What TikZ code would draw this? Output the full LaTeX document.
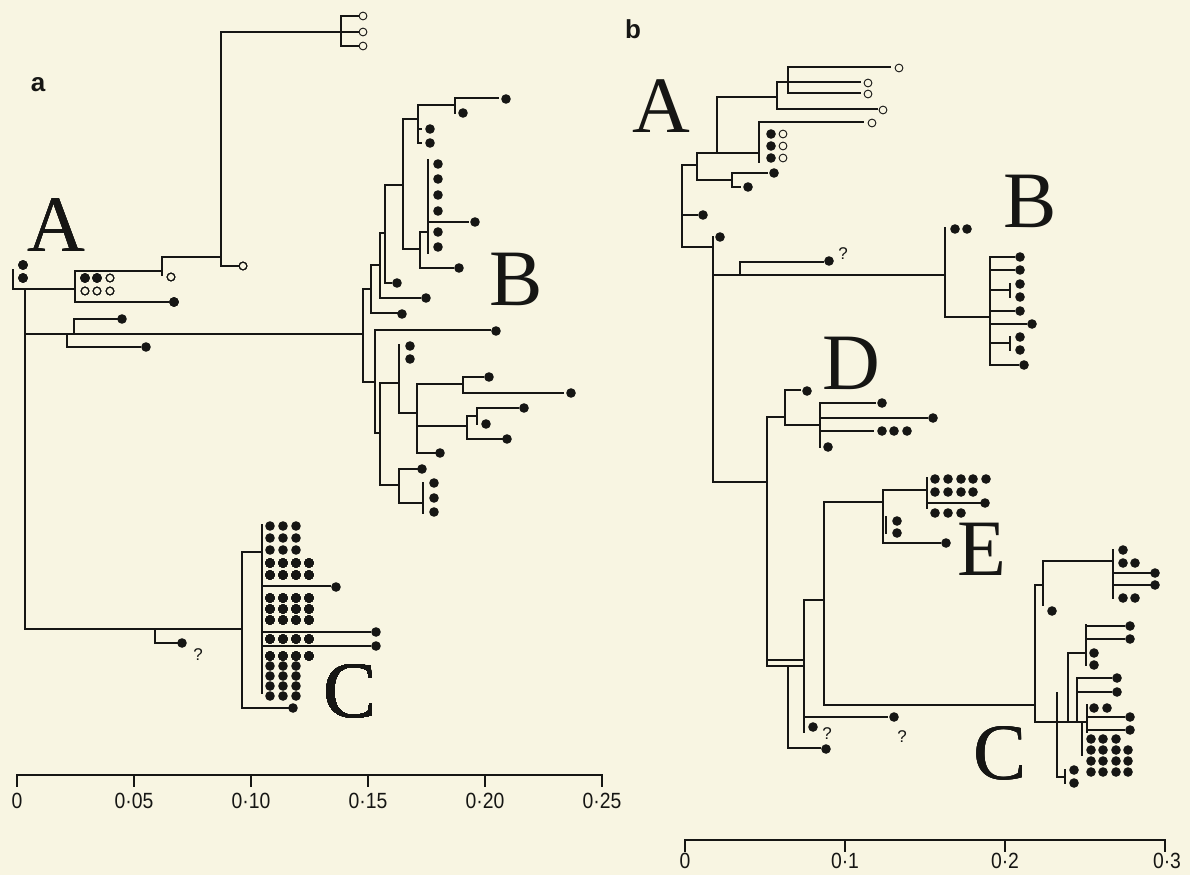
\documentclass[tikz,border=0pt]{standalone}
\usepackage{fontspec}
\setmainfont{Liberation Serif}
\newfontfamily\labelsans{Liberation Sans}
\newfontfamily\ticksans[FakeStretch=0.88]{Liberation Sans}
\definecolor{paper}{RGB}{248,245,226}
\definecolor{ink}{RGB}{22,22,20}
\newcommand\fdt[2]{\fill[ink] (#1,#2) circle[radius=4.8pt];}
\newcommand\hdt[2]{\draw[ink,line width=0.9pt] (#1,#2) circle[radius=3.9pt];}
\newcommand\fdrow[2]{\foreach \xx in {#2}{\fdt{\xx}{#1}}}
\begin{document}
\begin{tikzpicture}[x=1pt,y=-1pt,
  br/.style={draw=ink,line width=1.6pt,line cap=rect},
  clade/.style={font=\fontsize{80}{80}\selectfont,inner sep=0pt,anchor=base,text=ink},
  panel/.style={font=\labelsans\bfseries\fontsize{26}{26}\selectfont,inner sep=0pt,text=ink},
  ticklab/.style={font=\ticksans\fontsize{22}{22}\selectfont,inner sep=0pt,text=ink},
  qmark/.style={font=\labelsans\fontsize{17}{17}\selectfont,inner sep=0pt,text=ink}]
\useasboundingbox (0,0) rectangle (1190,875);
\fill[paper] (0,0) rectangle (1190,875);

% ---------------- panel a ----------------
\node[panel] (pa) at (38,85) {a};
% basal part and clade A
\draw[br] (13,270) -- (13,289) -- (75,289);
\draw[br] (25,289) -- (25,629) -- (242,629);
\draw[br] (75,271) -- (75,302) -- (168,302);
\draw[br] (75,271) -- (162,271);
\draw[br] (162,257) -- (162,275);
\draw[br] (162,257) -- (221,257);
\draw[br] (238,266) -- (221,266) -- (221,32) -- (341,32);
\draw[br] (341,16) -- (341,46);
\foreach \yy in {16,32,46} \draw[br] (341,\yy) -- (358,\yy);
\foreach \yy in {16,32,46} \hdt{363}{\yy}
\hdt{243}{266} \hdt{171}{277}
\fdt{23}{265} \fdt{23}{278} \fdt{174}{302}
\fdt{85}{278} \fdt{97}{278} \hdt{110}{278}
\hdt{85}{291} \hdt{97}{291} \hdt{110}{291}
\node[clade] (la) at (56,251) {A};
% branch to clade B
\draw[br] (25,334) -- (363,334);
\draw[br] (67,334) -- (67,347) -- (140,347); \fdt{146}{347}
\draw[br] (74,334) -- (74,319) -- (117,319); \fdt{122}{319}
% clade B, upper part
\draw[br] (363,289) -- (363,382);
\draw[br] (363,289) -- (371,289);
\draw[br] (371,265) -- (371,313) -- (397,313); \fdt{402}{314}
\draw[br] (371,265) -- (380,265);
\draw[br] (380,233) -- (380,298) -- (420,298); \fdt{426}{298}
\draw[br] (380,233) -- (385,233);
\draw[br] (385,185) -- (385,283) -- (391,283); \fdt{397}{283}
\draw[br] (385,185) -- (403,185);
\draw[br] (403,119) -- (403,249) -- (420,249);
\draw[br] (403,119) -- (418,119);
\draw[br] (418,105) -- (418,143);
\draw[br] (418,129) -- (421,129); \draw[br] (418,143) -- (421,143);
\fdt{430}{129} \fdt{430}{143}
\draw[br] (418,105) -- (455,105);
\draw[br] (455,98) -- (455,113);
\draw[br] (455,98) -- (498,98); \fdt{506}{99} \fdt{463}{113}
\draw[br] (420,232) -- (420,268) -- (453,268); \fdt{459}{268}
\draw[br] (420,232) -- (428,232);
\draw[br] (428,160) -- (428,253);
\draw[br] (428,222) -- (468,222); \fdt{475}{222}
\foreach \yy in {164,179,195,211,232,247} \fdt{438}{\yy}
% clade B, lower part
\draw[br] (363,382) -- (375,382);
\draw[br] (375,330) -- (375,433) -- (380,433);
\draw[br] (375,330) -- (490,330); \fdt{496}{331}
\draw[br] (380,383) -- (380,485) -- (399,485);
\draw[br] (380,383) -- (399,383);
\draw[br] (399,345) -- (399,413) -- (417,413);
\fdt{410}{346} \fdt{410}{359}
\draw[br] (417,384) -- (417,453) -- (435,453); \fdt{440}{453}
\draw[br] (417,384) -- (463,384);
\draw[br] (463,377) -- (463,393);
\draw[br] (463,377) -- (483,377); \fdt{489}{377}
\draw[br] (463,393) -- (563,393); \fdt{571}{393}
\draw[br] (417,426) -- (467,426);
\draw[br] (467,416) -- (467,439) -- (502,439); \fdt{507}{439}
\draw[br] (467,416) -- (477,416);
\draw[br] (477,408) -- (477,424);
\draw[br] (477,408) -- (518,408); \fdt{524}{408} \fdt{486}{424}
\draw[br] (399,469) -- (399,503) -- (423,503);
\draw[br] (399,469) -- (417,469); \fdt{422}{469}
\draw[br] (423,483) -- (423,513);
\fdt{434}{483} \fdt{434}{498} \fdt{434}{512}
\node[clade] (lb) at (516,305) {B};
% clade C
\draw[br] (155,629) -- (155,643) -- (177,643); \fdt{182}{643}
\node[qmark] (qa) at (198,655) {?};
\draw[br] (262,552) -- (242,552) -- (242,708) -- (288,708); \fdt{293}{708}
\draw[br] (262,525) -- (262,693);
\draw[br] (262,586) -- (330,586); \fdt{336}{587}
\draw[br] (262,632) -- (370,632); \fdt{376}{632}
\draw[br] (262,646) -- (370,646); \fdt{376}{646}
\foreach \yy in {526,538,550,666,676,686,696} \fdrow{\yy}{270,283,296}
\foreach \yy in {563,575,598,609,620,639,656} \fdrow{\yy}{270,283,296,309}
\node[clade] (lc) at (350,717) {C};
% scale bar a
\draw[br] (17,786) -- (17,775) -- (602,775) -- (602,786);
\foreach \xx in {134,251,368,485} \draw[br] (\xx,775) -- (\xx,786);
\node[ticklab] (ta0) at (17,801) {0};
\node[ticklab] (ta1) at (134,801) {0·05};
\node[ticklab] (ta2) at (251,801) {0·10};
\node[ticklab] (ta3) at (368,801) {0·15};
\node[ticklab] (ta4) at (485,801) {0·20};
\node[ticklab] (ta5) at (602,801) {0·25};

% ---------------- panel b ----------------
\node[panel] (pb) at (633,29) {b};
% clade A
\draw[br] (682,165) -- (682,247) -- (713,247);
\draw[br] (682,165) -- (697,165);
\draw[br] (682,215) -- (697,215); \fdt{703}{215}
\draw[br] (697,153) -- (697,180) -- (732,180);
\draw[br] (697,153) -- (759,153);
\draw[br] (717,97) -- (717,153);
\draw[br] (717,97) -- (777,97);
\draw[br] (777,82) -- (777,109) -- (877,109); \hdt{883}{110}
\draw[br] (777,82) -- (788,82);
\draw[br] (788,67) -- (788,93) -- (860,93); \hdt{868}{94}
\draw[br] (788,67) -- (890,67); \hdt{899}{68}
\draw[br] (788,82) -- (860,82); \hdt{868}{83}
\draw[br] (759,122) -- (759,162);
\draw[br] (759,122) -- (863,122); \hdt{872}{123}
\foreach \yy in {134,146,158} {\fdt{771}{\yy} \hdt{783}{\yy}}
\draw[br] (732,173) -- (732,187) -- (740,187); \fdt{748}{187}
\draw[br] (732,173) -- (767,173); \fdt{774}{173}
\node[clade] (lbA) at (661,132) {A};
% main stem and clade B
\draw[br] (713,237) -- (713,482) -- (767,482); \fdt{720}{237}
\draw[br] (713,275) -- (945,275);
\draw[br] (740,275) -- (740,262) -- (823,262); \fdt{829}{261}
\node[qmark] (qb1) at (843,254) {?};
\draw[br] (945,228) -- (945,317) -- (990,317);
\fdt{955}{229} \fdt{967}{229}
\draw[br] (990,257) -- (990,365) -- (1018,365); \fdt{1024}{365}
\draw[br] (990,257) -- (1014,257); \fdt{1020}{257}
\draw[br] (990,270) -- (1014,270); \fdt{1020}{270}
\draw[br] (990,290) -- (1010,290); \draw[br] (1010,284) -- (1010,297);
\fdt{1020}{284} \fdt{1020}{297}
\draw[br] (990,311) -- (1014,311); \fdt{1020}{311}
\draw[br] (990,324) -- (1026,324); \fdt{1032}{324}
\draw[br] (990,343) -- (1010,343); \draw[br] (1010,337) -- (1010,350);
\fdt{1020}{337} \fdt{1020}{350}
\node[clade] (lbB) at (1030,227) {B};
% clade D
\draw[br] (767,417) -- (767,666);
\draw[br] (767,417) -- (785,417);
\draw[br] (785,390) -- (785,425) -- (820,425);
\draw[br] (785,390) -- (800,390); \fdt{807}{391}
\draw[br] (820,403) -- (820,447); \fdt{828}{447}
\draw[br] (820,403) -- (875,403); \fdt{882}{403}
\draw[br] (820,418) -- (927,418); \fdt{933}{418}
\draw[br] (820,431) -- (873,431);
\fdrow{431}{882,894,907}
\node[clade] (lbD) at (851,389) {D};
% clade E
\draw[br] (824,600) -- (824,705) -- (1035,705);
\draw[br] (824,502) -- (824,600);
\draw[br] (824,502) -- (883,502);
\draw[br] (883,490) -- (883,543) -- (940,543); \fdt{946}{543}
\draw[br] (883,490) -- (927,490);
\draw[br] (927,478) -- (927,508);
\draw[br] (927,503) -- (980,503); \fdt{985}{503}
\fdrow{479}{935,948,961,973,986}
\fdrow{492}{935,948,961,973}
\fdrow{513}{935,948,961}
\draw[br] (886,517) -- (886,533);
\fdt{897}{521} \fdt{897}{533}
\node[clade] (lbE) at (982,575) {E};
% lower branches with uncertain tips
\draw[br] (767,660) -- (804,660);
\draw[br] (767,666) -- (804,666);
\draw[br] (788,666) -- (788,748) -- (820,748); \fdt{826}{749}
\draw[br] (804,600) -- (804,732);
\draw[br] (804,600) -- (824,600);
\draw[br] (804,717) -- (887,717); \fdt{894}{717}
\fdt{813}{727}
\node[qmark] (qb2) at (827,734) {?};
\node[qmark] (qb3) at (902,737) {?};
% clade C
\draw[br] (1035,585) -- (1035,722);
\draw[br] (1035,585) -- (1043,585);
\draw[br] (1043,561) -- (1043,605); \fdt{1052}{611}
\draw[br] (1043,561) -- (1113,561);
\draw[br] (1113,550) -- (1113,598);
\draw[br] (1113,573) -- (1150,573); \fdt{1155}{573}
\draw[br] (1113,585) -- (1150,585); \fdt{1155}{585}
\fdt{1123}{550} \fdrow{563}{1123,1135} \fdrow{598}{1123,1135}
\draw[br] (1035,722) -- (1087,722);
\draw[br] (1068,653) -- (1068,722);
\draw[br] (1068,653) -- (1086,653);
\draw[br] (1086,625) -- (1086,665);
\draw[br] (1086,626) -- (1124,626); \fdt{1130}{626}
\draw[br] (1086,639) -- (1124,639); \fdt{1130}{639}
\fdt{1094}{653} \fdt{1094}{665}
\draw[br] (1077,678) -- (1077,722);
\draw[br] (1077,678) -- (1111,678); \fdt{1117}{678}
\draw[br] (1077,692) -- (1111,692); \fdt{1117}{692}
\draw[br] (1057,693) -- (1057,777) -- (1065,777);
\draw[br] (1065,770) -- (1065,783);
\fdt{1074}{770} \fdt{1074}{783}
\draw[br] (1087,705) -- (1087,732);
\fdrow{708}{1094,1107}
\draw[br] (1087,717) -- (1124,717); \fdt{1130}{717}
\draw[br] (1087,730) -- (1124,730); \fdt{1130}{730}
\draw[br] (1082,722) -- (1082,755);
\fdrow{739}{1091,1103,1116}
\foreach \yy in {750,761,772} \fdrow{\yy}{1091,1103,1116,1128}
\node[clade] (lbC) at (1000,779) {C};
% scale bar b
\draw[br] (685,851) -- (685,840) -- (1165,840) -- (1165,851);
\foreach \xx in {845,1005} \draw[br] (\xx,840) -- (\xx,851);
\node[ticklab] (tb0) at (685,861) {0};
\node[ticklab] (tb1) at (845,861) {0·1};
\node[ticklab] (tb2) at (1005,861) {0·2};
\node[ticklab] (tb3) at (1167,861) {0·3};
\end{tikzpicture}
\end{document}
